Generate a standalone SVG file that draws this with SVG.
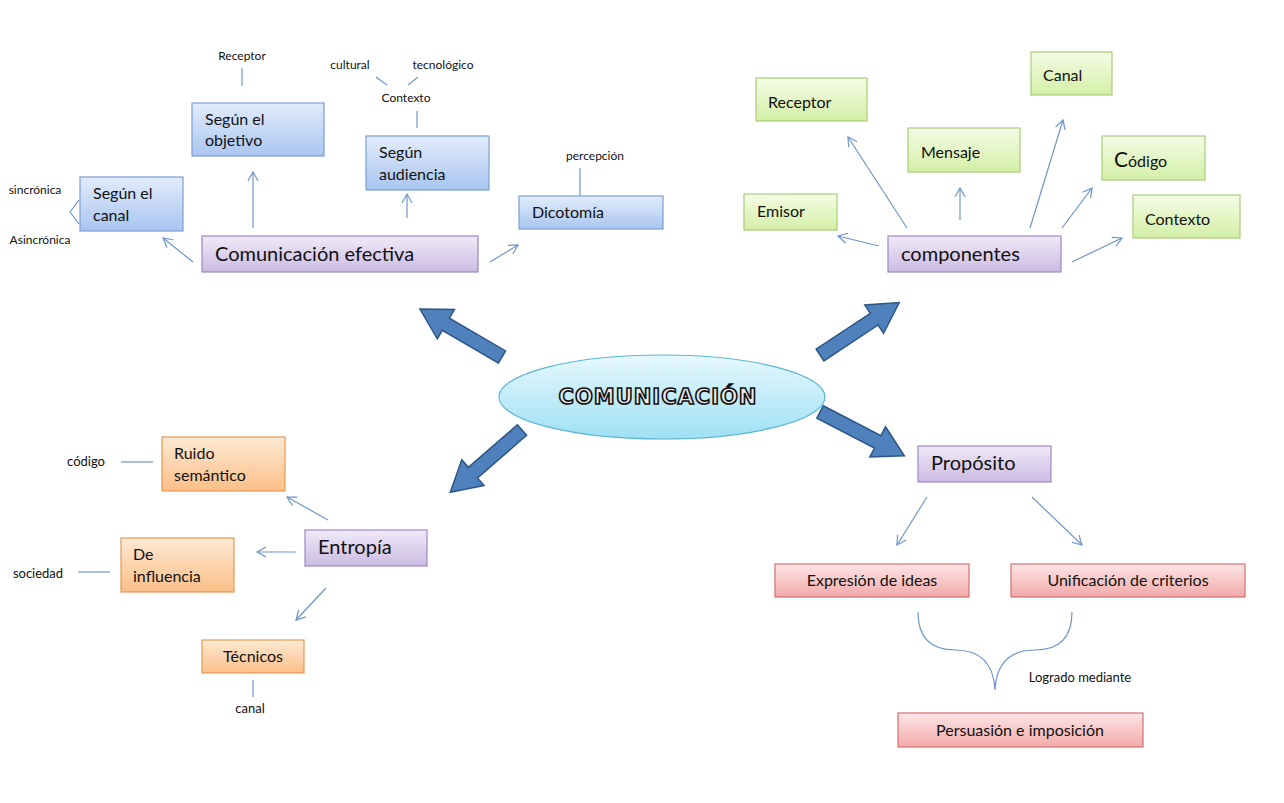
<svg xmlns="http://www.w3.org/2000/svg" width="1284" height="803" viewBox="0 0 1284 803">
<style>
text{font-family:Lato,"Open Sans","Liberation Sans",sans-serif;fill:#111}
.s{font-size:12px}.m{font-size:16px}.l{font-size:20px}
.bl{fill:url(#gb);stroke:#7c9fd4;stroke-width:1.2}
.pu{fill:url(#gp);stroke:#9c89c2;stroke-width:1.2}
.gr{fill:url(#gg);stroke:#a8cc78;stroke-width:1.2}
.or{fill:url(#go);stroke:#e39a55;stroke-width:1.2}
.rd{fill:url(#gr);stroke:#d27070;stroke-width:1.2}
.c{fill:none;stroke:#6f96c9;stroke-width:1.2}
.a{marker-end:url(#ah)}
.big{fill:#4f81bd;stroke:#2f5585;stroke-width:1.5}
</style>
<defs>
<linearGradient id="gb" x1="0" y1="0" x2="0" y2="1"><stop offset="0" stop-color="#e2ecfc"/><stop offset="1" stop-color="#a9c5f0"/></linearGradient>
<linearGradient id="gp" x1="0" y1="0" x2="0" y2="1"><stop offset="0" stop-color="#f0eaf8"/><stop offset="1" stop-color="#cbbbe3"/></linearGradient>
<linearGradient id="gg" x1="0" y1="0" x2="0" y2="1"><stop offset="0" stop-color="#f5fce6"/><stop offset="1" stop-color="#d3efa6"/></linearGradient>
<linearGradient id="go" x1="0" y1="0" x2="0" y2="1"><stop offset="0" stop-color="#fde9d3"/><stop offset="1" stop-color="#fbbf88"/></linearGradient>
<linearGradient id="gr" x1="0" y1="0" x2="0" y2="1"><stop offset="0" stop-color="#fde6e6"/><stop offset="1" stop-color="#f3a9a9"/></linearGradient>
<linearGradient id="ge" x1="0" y1="0" x2="0" y2="1"><stop offset="0" stop-color="#e6f8fe"/><stop offset="1" stop-color="#9fe0f5"/></linearGradient>
<marker id="ah" markerWidth="12" markerHeight="12" refX="10" refY="6" orient="auto" markerUnits="userSpaceOnUse"><path d="M1,1 L10,6 L1,11" fill="none" stroke="#6f96c9" stroke-width="1.2"/></marker>
<path id="ba" d="M0,-7 L65,-7 L65,-17 L95,0 L65,17 L65,7 L0,7 Z"/>
</defs>
<rect width="1284" height="803" fill="#fff"/>

<g id="connectors">
<line class="c a" x1="193" y1="262" x2="163" y2="238"/>
<line class="c a" x1="253" y1="228" x2="253" y2="172"/>
<line class="c a" x1="407" y1="218" x2="407" y2="194"/>
<line class="c a" x1="490" y1="262" x2="518" y2="245"/>
<line class="c" x1="242" y1="68" x2="242" y2="86"/>
<line class="c" x1="376" y1="77" x2="387" y2="85"/>
<line class="c" x1="418" y1="77" x2="408" y2="85"/>
<line class="c" x1="417" y1="111" x2="417" y2="128"/>
<polyline class="c" points="79,200 70,212 79,224"/>
<line class="c" x1="580" y1="168" x2="580" y2="196"/>
<line class="c a" x1="879" y1="246" x2="838" y2="236"/>
<line class="c a" x1="907" y1="228" x2="848" y2="137"/>
<line class="c a" x1="960" y1="220" x2="960" y2="188"/>
<line class="c a" x1="1030" y1="228" x2="1063" y2="120"/>
<line class="c a" x1="1062" y1="228" x2="1092" y2="188"/>
<line class="c a" x1="1072" y1="262" x2="1122" y2="238"/>
<line class="c a" x1="927" y1="497" x2="897" y2="545"/>
<line class="c a" x1="1032" y1="497" x2="1082" y2="545"/>
<path class="c" d="M918,612 Q918,650 955,650 Q993,650 995,690 Q997,650 1035,650 Q1072,650 1072,612"/>
<line class="c a" x1="328" y1="520" x2="287" y2="497"/>
<line class="c a" x1="296" y1="552" x2="257" y2="552"/>
<line class="c a" x1="326" y1="588" x2="296" y2="620"/>
<line class="c" x1="121" y1="462" x2="153" y2="462"/>
<line class="c" x1="78" y1="572" x2="110" y2="572"/>
<line class="c" x1="253" y1="680" x2="253" y2="697"/>
<use href="#ba" class="big" transform="translate(502,357) rotate(210.3)"/>
<use href="#ba" class="big" transform="translate(820,355) rotate(-33.5)"/>
<use href="#ba" class="big" transform="translate(522,430) rotate(139)"/>
<use href="#ba" class="big" transform="translate(820,412) rotate(27.4)"/>
</g>

<g id="center">
<ellipse cx="662" cy="397" rx="163" ry="42" fill="url(#ge)" stroke="#5ab6d6" stroke-width="1.2"/>
<text x="658" y="404" text-anchor="middle" style="font-family:'DejaVu Sans',sans-serif;font-weight:bold;font-size:21px;fill:#ececec;stroke:#111;stroke-width:1.6;letter-spacing:1px">COMUNICACIÓN</text>
</g>

<g id="com-efectiva"><rect class="pu" x="202" y="236" width="276" height="36"/><text class="l" x="215" y="261">Comunicación efectiva</text></g>
<g id="segun-canal"><rect class="bl" x="80" y="177" width="103" height="54"/><text class="m" x="93" y="199">Según el</text><text class="m" x="93" y="221">canal</text></g>
<g id="segun-objetivo"><rect class="bl" x="192" y="103" width="132" height="53"/><text class="m" x="205" y="125">Según el</text><text class="m" x="205" y="146">objetivo</text></g>
<g id="segun-audiencia"><rect class="bl" x="366" y="136" width="123" height="54"/><text class="m" x="379" y="158">Según</text><text class="m" x="379" y="180">audiencia</text></g>
<g id="dicotomia"><rect class="bl" x="519" y="196" width="144" height="33"/><text class="m" x="532" y="218">Dicotomía</text></g>
<g id="t-receptor1"><text class="s" x="242" y="60" text-anchor="middle">Receptor</text></g>
<g id="t-cultural"><text class="s" x="350" y="69" text-anchor="middle">cultural</text></g>
<g id="t-tecnologico"><text class="s" x="443" y="69" text-anchor="middle">tecnológico</text></g>
<g id="t-contexto1"><text class="s" x="406" y="102" text-anchor="middle">Contexto</text></g>
<g id="t-sincronica"><text class="s" x="35" y="194" text-anchor="middle">sincrónica</text></g>
<g id="t-asincronica"><text class="s" x="40" y="244" text-anchor="middle">Asincrónica</text></g>
<g id="t-percepcion"><text class="s" x="595" y="160" text-anchor="middle">percepción</text></g>

<g id="componentes"><rect class="pu" x="888" y="236" width="173" height="36"/><text class="l" x="901" y="261">componentes</text></g>
<g id="emisor"><rect class="gr" x="744" y="194" width="93" height="36"/><text class="m" x="757" y="217">Emisor</text></g>
<g id="receptor"><rect class="gr" x="756" y="78" width="111" height="43"/><text class="m" x="768" y="108">Receptor</text></g>
<g id="mensaje"><rect class="gr" x="908" y="128" width="112" height="44"/><text class="m" x="921" y="158">Mensaje</text></g>
<g id="canal"><rect class="gr" x="1031" y="52" width="81" height="43"/><text class="m" x="1043" y="81">Canal</text></g>
<g id="codigo"><rect class="gr" x="1102" y="136" width="103" height="44"/><text x="1114" y="167"><tspan font-size="21">C</tspan><tspan font-size="16">ódigo</tspan></text></g>
<g id="contexto"><rect class="gr" x="1133" y="195" width="107" height="43"/><text class="m" x="1145" y="225">Contexto</text></g>

<g id="proposito"><rect class="pu" x="918" y="446" width="133" height="36"/><text class="l" x="931" y="470">Propósito</text></g>
<g id="expresion"><rect class="rd" x="775" y="564" width="194" height="33"/><text class="m" x="872" y="586" text-anchor="middle">Expresión de ideas</text></g>
<g id="unificacion"><rect class="rd" x="1011" y="564" width="234" height="33"/><text class="m" x="1128" y="586" text-anchor="middle">Unificación de criterios</text></g>
<g id="t-logrado"><text x="1080" y="682" text-anchor="middle" font-size="13">Logrado mediante</text></g>
<g id="persuasion"><rect class="rd" x="898" y="713" width="245" height="34"/><text class="m" x="1020" y="736" text-anchor="middle">Persuasión e imposición</text></g>

<g id="entropia"><rect class="pu" x="305" y="530" width="122" height="36"/><text class="l" x="318" y="554">Entropía</text></g>
<g id="ruido"><rect class="or" x="162" y="437" width="123" height="54"/><text class="m" x="174" y="459">Ruido</text><text class="m" x="174" y="481">semántico</text></g>
<g id="influencia"><rect class="or" x="121" y="538" width="113" height="54"/><text class="m" x="133" y="560">De</text><text class="m" x="133" y="582">influencia</text></g>
<g id="tecnicos"><rect class="or" x="202" y="640" width="102" height="33"/><text class="m" x="253" y="662" text-anchor="middle">Técnicos</text></g>
<g id="t-codigo"><text x="86" y="466" text-anchor="middle" font-size="13">código</text></g>
<g id="t-sociedad"><text x="38" y="578" text-anchor="middle" font-size="13">sociedad</text></g>
<g id="t-canal"><text x="250" y="713" text-anchor="middle" font-size="13">canal</text></g>
</svg>
